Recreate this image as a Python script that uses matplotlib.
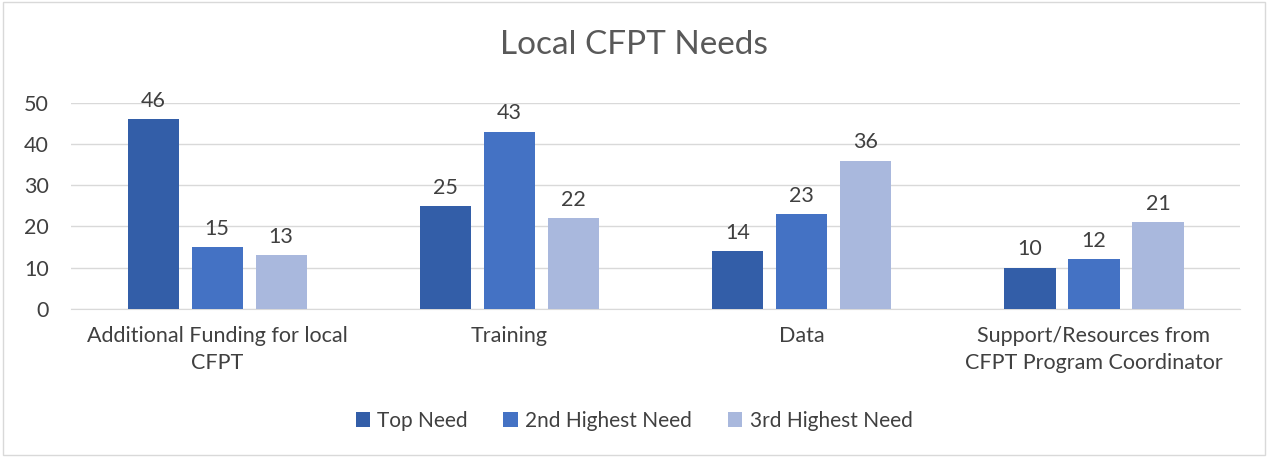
import numpy as np
import matplotlib.pyplot as plt
from matplotlib.patches import Rectangle

categories = ["Additional Funding for local\nCFPT", "Training", "Data",
              "Support/Resources from\nCFPT Program Coordinator"]
series_names = ["Top Need", "2nd Highest Need", "3rd Highest Need"]
top_need = [46, 25, 14, 10]
second_need = [15, 43, 23, 12]
third_need = [13, 22, 36, 21]
colors = ["#335EA8", "#4472C4", "#A9B8DD"]

plt.rcParams['font.family'] = ['Lato', 'DejaVu Sans']

fig = plt.figure(figsize=(12.68, 4.57), dpi=100)
fig.patches.append(Rectangle((0.002, 0.004), 0.996, 0.992, transform=fig.transFigure,
                             fill=False, edgecolor="#D9D9D9", linewidth=1))
ax = fig.add_axes([0.056, 0.324, 0.922, 0.451])

x = np.arange(len(categories))
width = 0.175
step = 0.219
for i, (vals, name) in enumerate(zip([top_need, second_need, third_need], series_names)):
    bars = ax.bar(x + (i - 1) * step, vals, width, color=colors[i], label=name, zorder=3)
    for b, v in zip(bars, vals):
        ax.text(b.get_x() + b.get_width() / 2, v + 2.0, str(v), ha="center", va="bottom",
                fontsize=15.5, color="#404040")

ax.set_xlim(-0.5, len(categories) - 0.5)
ax.set_ylim(0, 50)
ax.set_yticks(range(0, 51, 10))
ax.yaxis.grid(True, color="#D9D9D9", linewidth=1, zorder=0)
ax.set_xticks(x)
ax.set_xticklabels(categories, fontsize=15.5, color="#404040", linespacing=1.45)
ax.tick_params(axis="y", labelsize=15.5, labelcolor="#404040", length=0, pad=16)
ax.tick_params(axis="x", length=0, pad=12)
for s in ["top", "right", "left"]:
    ax.spines[s].set_visible(False)
ax.spines["bottom"].set_color("#D9D9D9")

fig.suptitle("Local CFPT Needs", y=0.935, fontsize=24, color="#595959")
fig.legend(loc="center", bbox_to_anchor=(0.5, 0.079), ncol=3, frameon=False,
           fontsize=15, handlelength=0.7, handleheight=0.7, handletextpad=0.35,
           columnspacing=1.7, labelcolor="#404040")

fig.savefig("out.png", dpi=100)
